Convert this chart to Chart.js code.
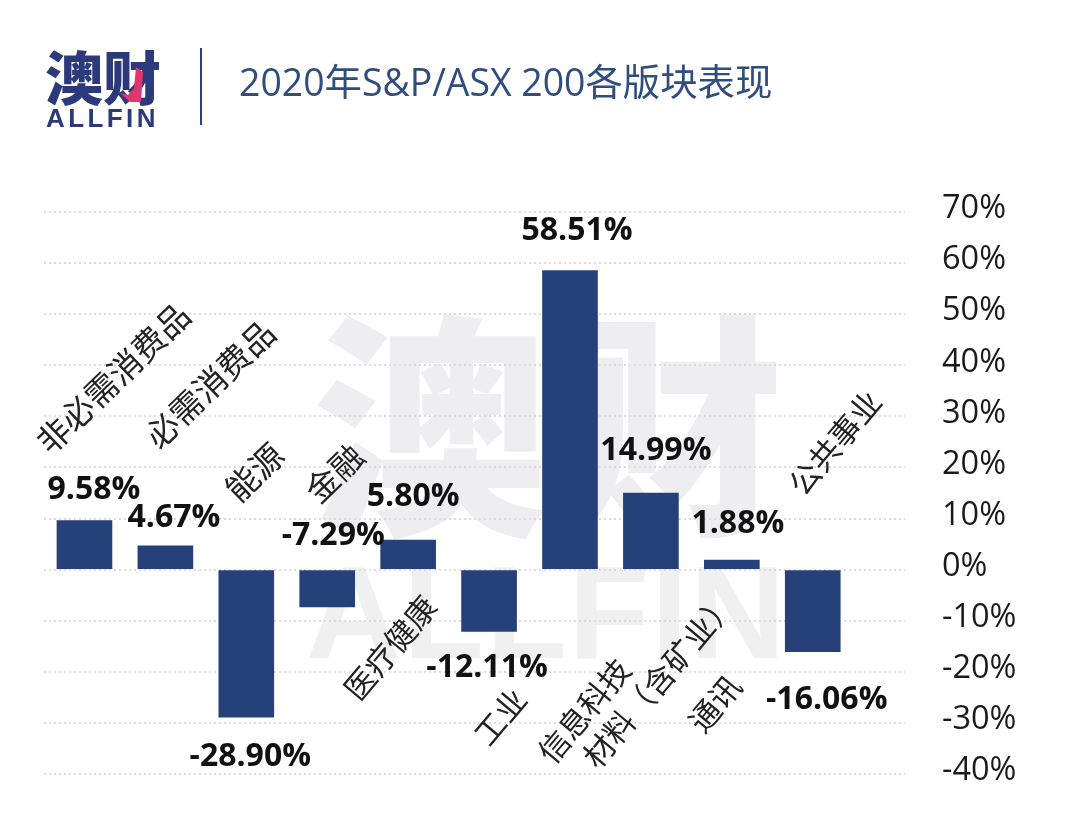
<!DOCTYPE html>
<html><head><meta charset="utf-8">
<style>
html,body{margin:0;padding:0;background:#fff;width:1080px;height:839px;overflow:hidden}
#stage{position:relative;width:1080px;height:839px}
#stage div,#stage svg,#stage canvas{position:absolute}
.cjk{font-family:"Noto Sans CJK SC",sans-serif;white-space:nowrap}
</style></head><body>
<div id="stage">
<div class="cjk" style="left:312px;top:254px;font-size:236px;line-height:320px;font-weight:900;color:#eeeef0;letter-spacing:0px">澳财</div>
<div class="cjk" style="left:306px;top:538px;font-size:132px;line-height:150px;font-weight:900;color:#f0f0f1;letter-spacing:2px;font-family:'Liberation Sans',sans-serif">ALLFIN</div>
<canvas id="c" width="1080" height="839" style="left:0;top:0"></canvas>
<div class="cjk" style="left:45px;top:36px;font-size:58px;line-height:78px;font-weight:900;color:#2c3a7c">澳财</div>
<svg style="left:0;top:0" width="200" height="130"><polygon points="120,93 130,102 141,102 143,72 136,67 134,88 128,95" fill="#e0356f"/></svg>
<div class="cjk" style="left:46px;top:103px;font-size:26px;line-height:30px;font-weight:700;color:#2c3a7c;letter-spacing:3.4px;font-family:'Liberation Sans',sans-serif">ALLFIN</div>
<div style="left:200px;top:48px;width:2px;height:77px;background:#2c3f78"></div>
<div class="cjk" style="left:239px;top:58px;font-size:37.4px;line-height:48px;color:#2f4d7e;font-family:'Open Sans','Noto Sans CJK SC',sans-serif">2020年S&amp;P/ASX 200各版块表现</div>
</div>
<script src="https://cdn.jsdelivr.net/npm/chart.js@4"></script>
<script>
const categories = ["非必需消费品","必需消费品","能源","金融","医疗健康","工业","信息科技","材料（含矿业）","通讯","公共事业"];
const returns = [9.58,4.67,-28.90,-7.29,5.80,-12.11,58.51,14.99,1.88,-16.06];
const valueLabels = ["9.58%","4.67%","-28.90%","-7.29%","5.80%","-12.11%","58.51%","14.99%","1.88%","-16.06%"];

const NAVY = "#26407a";
const valueOffsets = [[9.5,-31],[8.5,-28],[4,40],[6,-71],[5,-43],[-2,36],[7,-40],[5,-42],[6,-36],[14,48]];
const catCenters = [[28.5,-191.5],[44.6,-185.5],[8,-97.5],[7,-96.5],[-18,78],[11,147],[14,141],[8,110],[-17,134],[22,-127]];

const annotate = {
  id:"annotate",
  afterDatasetsDraw(chart){
    const {ctx,scales:{x,y}} = chart;
    const zero = y.getPixelForValue(0);
    ctx.save();
    ctx.textAlign="center"; ctx.textBaseline="middle";
    ctx.fillStyle="#111";
    ctx.font='700 32px "Open Sans","Noto Sans CJK SC",sans-serif';
    returns.forEach((v,i)=>{
      ctx.fillText(valueLabels[i], x.getPixelForValue(i)+valueOffsets[i][0], y.getPixelForValue(v)+valueOffsets[i][1]);
    });
    ctx.fillStyle="#222";
    categories.forEach((c,i)=>{
      ctx.save();
      ctx.font='400 '+(i<4?33:31)+'px "Noto Sans CJK SC",sans-serif';
      ctx.translate(x.getPixelForValue(i)+catCenters[i][0], zero+catCenters[i][1]);
      ctx.rotate(-(i<4?44:50)*Math.PI/180);
      ctx.fillText(c,0,0);
      ctx.restore();
    });
    ctx.restore();
  }
};

new Chart(document.getElementById("c"),{
  type:"bar",
  data:{labels:categories,datasets:[{
    data:returns.map((v,i)=>({x:i,y:v})),
    backgroundColor:NAVY,borderWidth:0,barThickness:55
  }]},
  options:{
    responsive:false,animation:false,devicePixelRatio:1,
    layout:{autoPadding:false,padding:{left:44,top:212,right:0,bottom:65}},
    plugins:{legend:{display:false},tooltip:{enabled:false}},
    scales:{
      x:{type:"linear",offset:false,min:-0.5,max:10.14,display:false,grid:{display:false}},
      y:{position:"right",min:-40,max:70,
        afterFit(s){s.width=175;},
        border:{display:false,dash:[2,3]},
        grid:{color:"#dcdcdc",lineWidth:2,drawTicks:false,tickLength:0},
        ticks:{stepSize:10,padding:37,crossAlign:"near",labelOffset:-3,color:"#1a1a1a",
          font:{family:'"Open Sans","Noto Sans",sans-serif',size:32.5},
          callback:v=>v+"%"}
      }
    }
  },
  plugins:[annotate]
});
</script>
</body></html>
